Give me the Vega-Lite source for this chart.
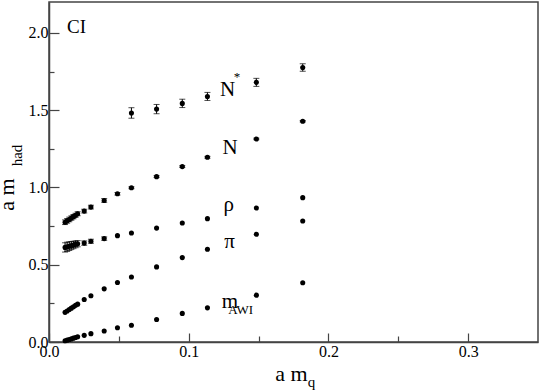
{
  "$schema": "https://vega.github.io/schema/vega-lite/v6.json",
  "width": 489,
  "height": 340,
  "autosize": {"type": "none"},
  "padding": {"left": 49, "top": 2, "right": 2, "bottom": 50},
  "background": "white",
  "config": {
    "view": {"stroke": "#444", "strokeWidth": 1.5},
    "axis": {
      "grid": false,
      "domainColor": "#444",
      "domainWidth": 1.5,
      "tickColor": "#444",
      "tickWidth": 1.2,
      "labelFont": "Liberation Serif, Times New Roman, Times, DejaVu Serif, serif",
      "labelFontSize": 16,
      "labelColor": "black",
      "titleFont": "Liberation Serif, Times New Roman, Times, DejaVu Serif, serif",
      "titleFontWeight": "normal",
      "titleColor": "black"
    },
    "text": {"font": "Liberation Serif, Times New Roman, Times, DejaVu Serif, serif", "color": "black"}
  },
  "datasets": {
    "pts": [
      {"series": "N", "x": 0.0115, "y": 0.775, "err": 0.015},
      {"series": "N", "x": 0.013, "y": 0.784, "err": 0.015},
      {"series": "N", "x": 0.0145, "y": 0.793, "err": 0.015},
      {"series": "N", "x": 0.016, "y": 0.802, "err": 0.014},
      {"series": "N", "x": 0.0175, "y": 0.811, "err": 0.014},
      {"series": "N", "x": 0.019, "y": 0.820, "err": 0.013},
      {"series": "N", "x": 0.0205, "y": 0.830, "err": 0.013},
      {"series": "N", "x": 0.0252, "y": 0.847, "err": 0.012},
      {"series": "N", "x": 0.030, "y": 0.873, "err": 0.012},
      {"series": "N", "x": 0.0395, "y": 0.916, "err": 0.012},
      {"series": "N", "x": 0.049, "y": 0.959, "err": 0.008},
      {"series": "N", "x": 0.059, "y": 0.998, "err": 0.006},
      {"series": "N", "x": 0.077, "y": 1.07, "err": 0.006},
      {"series": "N", "x": 0.0954, "y": 1.135, "err": 0.006},
      {"series": "N", "x": 0.1134, "y": 1.195, "err": 0.006},
      {"series": "N", "x": 0.1484, "y": 1.314, "err": 0.005},
      {"series": "N", "x": 0.1816, "y": 1.428, "err": 0.005},
      {"series": "N*", "x": 0.059, "y": 1.482, "err": 0.034},
      {"series": "N*", "x": 0.077, "y": 1.507, "err": 0.030},
      {"series": "N*", "x": 0.0954, "y": 1.544, "err": 0.027},
      {"series": "N*", "x": 0.1134, "y": 1.589, "err": 0.026},
      {"series": "N*", "x": 0.1484, "y": 1.680, "err": 0.026},
      {"series": "N*", "x": 0.1816, "y": 1.776, "err": 0.024},
      {"series": "rho", "x": 0.0115, "y": 0.612, "err": 0.030},
      {"series": "rho", "x": 0.013, "y": 0.616, "err": 0.030},
      {"series": "rho", "x": 0.0145, "y": 0.620, "err": 0.028},
      {"series": "rho", "x": 0.016, "y": 0.624, "err": 0.026},
      {"series": "rho", "x": 0.0175, "y": 0.628, "err": 0.024},
      {"series": "rho", "x": 0.019, "y": 0.632, "err": 0.022},
      {"series": "rho", "x": 0.0205, "y": 0.636, "err": 0.020},
      {"series": "rho", "x": 0.0252, "y": 0.640, "err": 0.014},
      {"series": "rho", "x": 0.030, "y": 0.652, "err": 0.013},
      {"series": "rho", "x": 0.0395, "y": 0.669, "err": 0.011},
      {"series": "rho", "x": 0.049, "y": 0.688, "err": 0.004},
      {"series": "rho", "x": 0.059, "y": 0.705, "err": 0.004},
      {"series": "rho", "x": 0.077, "y": 0.737, "err": 0.004},
      {"series": "rho", "x": 0.0954, "y": 0.770, "err": 0.004},
      {"series": "rho", "x": 0.1134, "y": 0.798, "err": 0.004},
      {"series": "rho", "x": 0.1484, "y": 0.867, "err": 0.004},
      {"series": "rho", "x": 0.1816, "y": 0.934, "err": 0.004},
      {"series": "pi", "x": 0.0115, "y": 0.192, "err": 0.003},
      {"series": "pi", "x": 0.013, "y": 0.201, "err": 0.003},
      {"series": "pi", "x": 0.0145, "y": 0.210, "err": 0.003},
      {"series": "pi", "x": 0.016, "y": 0.219, "err": 0.003},
      {"series": "pi", "x": 0.0175, "y": 0.228, "err": 0.003},
      {"series": "pi", "x": 0.019, "y": 0.237, "err": 0.003},
      {"series": "pi", "x": 0.0205, "y": 0.245, "err": 0.003},
      {"series": "pi", "x": 0.0252, "y": 0.275, "err": 0.003},
      {"series": "pi", "x": 0.030, "y": 0.299, "err": 0.003},
      {"series": "pi", "x": 0.0395, "y": 0.344, "err": 0.003},
      {"series": "pi", "x": 0.049, "y": 0.385, "err": 0.003},
      {"series": "pi", "x": 0.059, "y": 0.421, "err": 0.003},
      {"series": "pi", "x": 0.077, "y": 0.486, "err": 0.003},
      {"series": "pi", "x": 0.0954, "y": 0.546, "err": 0.003},
      {"series": "pi", "x": 0.1134, "y": 0.600, "err": 0.003},
      {"series": "pi", "x": 0.1484, "y": 0.697, "err": 0.003},
      {"series": "pi", "x": 0.1816, "y": 0.783, "err": 0.003},
      {"series": "mAWI", "x": 0.0115, "y": 0.008, "err": 0.002},
      {"series": "mAWI", "x": 0.013, "y": 0.012, "err": 0.002},
      {"series": "mAWI", "x": 0.0145, "y": 0.016, "err": 0.002},
      {"series": "mAWI", "x": 0.016, "y": 0.020, "err": 0.002},
      {"series": "mAWI", "x": 0.0175, "y": 0.025, "err": 0.002},
      {"series": "mAWI", "x": 0.019, "y": 0.029, "err": 0.002},
      {"series": "mAWI", "x": 0.0205, "y": 0.034, "err": 0.002},
      {"series": "mAWI", "x": 0.0252, "y": 0.043, "err": 0.002},
      {"series": "mAWI", "x": 0.030, "y": 0.054, "err": 0.002},
      {"series": "mAWI", "x": 0.0395, "y": 0.071, "err": 0.002},
      {"series": "mAWI", "x": 0.049, "y": 0.092, "err": 0.002},
      {"series": "mAWI", "x": 0.059, "y": 0.108, "err": 0.002},
      {"series": "mAWI", "x": 0.077, "y": 0.146, "err": 0.002},
      {"series": "mAWI", "x": 0.0954, "y": 0.185, "err": 0.002},
      {"series": "mAWI", "x": 0.1134, "y": 0.221, "err": 0.002},
      {"series": "mAWI", "x": 0.1484, "y": 0.303, "err": 0.002},
      {"series": "mAWI", "x": 0.1816, "y": 0.383, "err": 0.002}
    ],
    "labels": [
      {"text": "N", "x": 0.1279, "y": 1.594},
      {"text": "N", "x": 0.1296, "y": 1.219},
      {"text": "ρ", "x": 0.1286, "y": 0.848},
      {"text": "π", "x": 0.1293, "y": 0.606},
      {"text": "m", "x": 0.1295, "y": 0.222}
    ],
    "small": [
      {"text": "*", "x": 0.1346, "y": 1.687, "align": "center"},
      {"text": "AWI", "x": 0.1372, "y": 0.183, "align": "left"}
    ],
    "panel": [
      {"text": "CI", "x": 0.0129, "y": 2.0}
    ]
  },
  "resolve": {"axis": {"x": "independent", "y": "independent"}},
  "layer": [
    {
      "data": {"name": "pts"},
      "mark": {"type": "point", "filled": true, "shape": "circle", "size": 26, "color": "black", "opacity": 1},
      "encoding": {
        "x": {
          "field": "x", "type": "quantitative",
          "scale": {"domain": [0, 0.35], "nice": false, "zero": false},
          "axis": {
            "orient": "bottom",
            "values": [0, 0.1, 0.2, 0.3],
            "format": ".1f",
            "tickSize": -9,
            "labelPadding": 10,
            "labelFlush": false,
            "title": "a m",
            "titleFontSize": 22,
            "titleX": 242,
            "titleY": 38,
            "titleAlign": "center",
            "titleBaseline": "alphabetic"
          }
        },
        "y": {
          "field": "y", "type": "quantitative",
          "scale": {"domain": [0, 2.2], "nice": false, "zero": false},
          "axis": {
            "orient": "left",
            "values": [0, 0.5, 1, 1.5, 2],
            "format": ".1f",
            "tickSize": -10,
            "labelPadding": 11,
            "labelFlush": false,
            "title": "a m",
            "titleFontSize": 22,
            "titleAngle": 270,
            "titleX": -36,
            "titleY": 192,
            "titleAlign": "center",
            "titleBaseline": "alphabetic"
          }
        }
      }
    },
    {
      "data": {"name": "pts"},
      "transform": [{"filter": "datum.err > 0.0045"}],
      "mark": {"type": "errorbar", "ticks": {"size": 6, "color": "black"}, "rule": {"color": "black", "strokeWidth": 1}},
      "encoding": {
        "x": {"field": "x", "type": "quantitative", "axis": null},
        "y": {"field": "y", "type": "quantitative", "axis": null},
        "yError": {"field": "err"}
      }
    },
    {
      "data": {"name": "labels"},
      "mark": {"type": "text", "fontSize": 21, "align": "center", "baseline": "alphabetic"},
      "encoding": {
        "x": {"field": "x", "type": "quantitative", "axis": null},
        "y": {"field": "y", "type": "quantitative", "axis": null},
        "text": {"field": "text"}
      }
    },
    {
      "data": {"name": "panel"},
      "mark": {"type": "text", "fontSize": 19, "align": "left", "baseline": "alphabetic"},
      "encoding": {
        "x": {"field": "x", "type": "quantitative", "axis": null},
        "y": {"field": "y", "type": "quantitative", "axis": null},
        "text": {"field": "text"}
      }
    },
    {
      "data": {"name": "small"},
      "mark": {"type": "text", "fontSize": 13, "baseline": "alphabetic"},
      "encoding": {
        "x": {
          "field": "x", "type": "quantitative",
          "axis": {
            "orient": "bottom",
            "values": [0.05, 0.15, 0.25],
            "labels": false,
            "domain": false,
            "tickSize": -6,
            "title": "q",
            "titleFontSize": 15,
            "titleX": 262,
            "titleY": 44,
            "titleAlign": "center",
            "titleBaseline": "alphabetic"
          }
        },
        "y": {
          "field": "y", "type": "quantitative",
          "axis": {
            "orient": "left",
            "values": [0.25, 0.75, 1.25, 1.75],
            "labels": false,
            "domain": false,
            "tickSize": -5,
            "title": "had",
            "titleFontSize": 15,
            "titleAngle": 270,
            "titleX": -28,
            "titleY": 153,
            "titleAlign": "center",
            "titleBaseline": "alphabetic"
          }
        },
        "text": {"field": "text"},
        "align": {"field": "align", "type": "nominal", "scale": null}
      }
    }
  ]
}
